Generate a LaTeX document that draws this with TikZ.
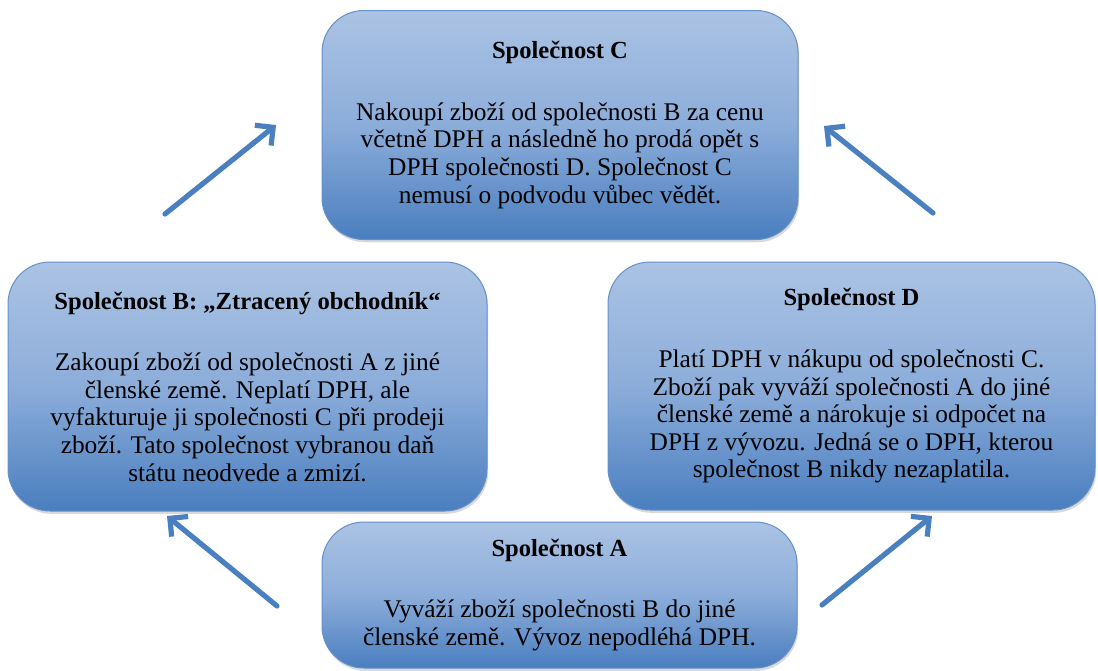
\documentclass[tikz,border=0pt]{standalone}
\usepackage{fontspec}
\setmainfont{Liberation Serif}
\usetikzlibrary{arrows.meta}
\usetikzlibrary{shadows}

\begin{document}
\begin{tikzpicture}[x=0.5pt,y=-0.5pt]
\definecolor{boxtop}{HTML}{ABC3E4}
\definecolor{boxmid}{HTML}{8CADDA}
\definecolor{boxbot}{HTML}{4A7EBF}
\definecolor{arrcol}{HTML}{4A7FC0}
\colorlet{edgecol}{boxbot!85!white}
\tikzstyle{myarr}=[-{Straight Barb[length=6.5pt,width=13pt]}]
\tikzset{
firma/.style={rounded corners=21pt,draw=edgecol,line width=0.5pt,
  top color=boxtop,bottom color=boxbot,middle color=boxmid,
  drop shadow={shadow xshift=0.6pt,shadow yshift=-1.4pt,opacity=0.3},
  align=center,inner sep=0pt,
  font=\fontsize{12.7pt}{13.8pt}\selectfont},
titul/.style={font=\fontsize{12.3pt}{13.8pt}\selectfont\bfseries},
tok/.style={myarr,arrcol,line width=2.6pt,line cap=round},
}
\def\gap{17pt}   % title -> text
\newcommand\nadpis[1]{{\fontsize{12.3pt}{13.8pt}\selectfont\bfseries #1}}

\useasboundingbox (0,0) rectangle (1098,670);

% COMPANIES
\node[firma,minimum width=238pt,minimum height=114.5pt] (boxC) at (560,125)
  {\nadpis{Společnost C}\\[\gap]
   Nakoupí zboží od společnosti B za cenu\\
   včetně DPH a následně ho prodá  opět s\\
   DPH společnosti D.  Společnost C\\
   nemusí o podvodu vůbec vědět.};
\node[firma,minimum width=239.5pt,minimum height=124.5pt] (boxB) at (247.5,386.5)
  {\nadpis{Společnost B: „Ztracený obchodník“}\\[\gap]
   Zakoupí zboží od společnosti A z jiné\\
   členské země. Neplatí DPH, ale\\
   vyfakturuje ji společnosti C při prodeji\\
   zboží. Tato společnost vybranou daň\\
   státu neodvede a zmizí.};
\node[firma,minimum width=243.5pt,minimum height=124pt] (boxD) at (851.5,386)
  {\nadpis{Společnost D}\\[\gap]
   Platí DPH v nákupu od společnosti C.\\
   Zboží pak vyváží společnosti A do jiné\\
   členské země  a nárokuje si odpočet na\\
   DPH z vývozu. Jedná se o DPH, kterou\\
   společnost B nikdy nezaplatila.};
\node[firma,minimum width=237.5pt,minimum height=73pt] (boxA) at (559.5,595)
  {\nadpis{Společnost A}\\[\gap]
   Vyváží zboží společnosti B do jiné\\
   členské země. Vývoz nepodléhá DPH.};

% FLOW OF GOODS
\coordinate (AB1) at (277,606); % A -> B
\coordinate (AB2) at (167,516);
\coordinate (BC1) at (165,214); % B -> C
\coordinate (BC2) at (276,125);
\coordinate (DC1) at (933,213); % D -> C
\coordinate (DC2) at (824,126);
\coordinate (AD1) at (822,605); % A -> D
\coordinate (AD2) at (932,516);
\draw[tok] (AB1) -- (AB2);
\draw[tok] (BC1) -- (BC2);
\draw[tok] (DC1) -- (DC2);
\draw[tok] (AD1) -- (AD2);

\end{tikzpicture}
\end{document}
